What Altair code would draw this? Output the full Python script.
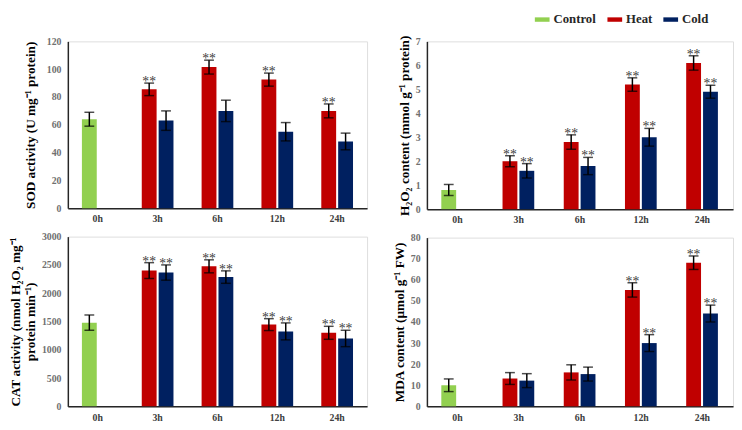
import altair as alt
import pandas as pd

times = ["0h", "3h", "6h", "12h", "24h"]
stress_times = ["3h", "6h", "12h", "24h"]
treatments = ["Control", "Heat", "Cold"]
colors = ["#92D050", "#C00000", "#002060"]

# SOD activity
sod_control = 64.0
sod_control_err = 5.0
sod_heat = [85.5, 101.5, 92.5, 70.0]
sod_heat_err = [4.5, 5.0, 4.7, 5.0]
sod_cold = [63.0, 70.0, 55.0, 48.0]
sod_cold_err = [7.0, 7.7, 6.6, 6.0]
sod_heat_sig = [True, True, True, True]
sod_cold_sig = [False, False, False, False]

# H2O2 content
h2o2_control = 0.8
h2o2_control_err = 0.23
h2o2_heat = [2.0, 2.8, 5.2, 6.1]
h2o2_heat_err = [0.23, 0.3, 0.28, 0.3]
h2o2_cold = [1.6, 1.8, 3.0, 4.9]
h2o2_cold_err = [0.3, 0.36, 0.37, 0.27]
h2o2_heat_sig = [True, True, True, True]
h2o2_cold_sig = [True, True, True, True]

# CAT activity
cat_control = 1480.0
cat_control_err = 135.0
cat_heat = [2400.0, 2475.0, 1445.0, 1300.0]
cat_heat_err = [140.0, 115.0, 105.0, 115.0]
cat_cold = [2365.0, 2285.0, 1325.0, 1200.0]
cat_cold_err = [135.0, 110.0, 150.0, 145.0]
cat_heat_sig = [True, True, True, True]
cat_cold_sig = [True, True, True, True]

# MDA content
mda_control = 10.0
mda_control_err = 3.0
mda_heat = [13.2, 16.1, 55.2, 68.1]
mda_heat_err = [2.8, 3.6, 3.4, 3.2]
mda_cold = [12.2, 15.3, 30.0, 44.0]
mda_cold_err = [3.3, 3.3, 4.0, 4.0]
mda_heat_sig = [False, False, True, True]
mda_cold_sig = [False, False, True, True]


def make_df(control, control_err, heat, heat_err, cold, cold_err, heat_sig, cold_sig):
    rows = [dict(time="0h", treatment="Control", slot="a", value=control,
                 err=control_err, sig=False)]
    for t, v, e, s in zip(stress_times, heat, heat_err, heat_sig):
        rows.append(dict(time=t, treatment="Heat", slot="a", value=v, err=e, sig=s))
    for t, v, e, s in zip(stress_times, cold, cold_err, cold_sig):
        rows.append(dict(time=t, treatment="Cold", slot="b", value=v, err=e, sig=s))
    df = pd.DataFrame(rows)
    df["lo"] = df["value"] - df["err"]
    df["hi"] = df["value"] + df["err"]
    return df


SERIF = "Liberation Serif"

legend_def = alt.Legend(
    title=None, orient="none", direction="horizontal", legendX=476, legendY=-30,
    padding=0, symbolType="M-1,-0.3H1V0.3H-1Z", symbolSize=225, symbolStrokeWidth=0,
    labelFont=SERIF, labelFontSize=13, labelFontWeight="bold", labelColor="#262626",
    columnPadding=11, labelOffset=4,
)


def panel(df, title, domain, step, width, height, title_padding, xlabel_pad):
    base = alt.Chart(df).encode(
        x=alt.X("time:N", sort=times,
                scale=alt.Scale(domain=times, paddingInner=0.47, paddingOuter=0.235),
                axis=alt.Axis(title=None, labelAngle=0, ticks=False, domainColor="#262626",
                              domainWidth=1.5, labelFont=SERIF, labelFontSize=10,
                              labelFontWeight="bold", labelColor="#404040",
                              labelPadding=xlabel_pad)),
        xOffset=alt.XOffset("slot:N", scale=alt.Scale(domain=["a", "b"], paddingInner=0.12)),
    )
    yax = alt.Axis(title=title, values=list(range(domain[0], domain[1] + 1, step)),
                   format="d", labelOverlap=False,
                   ticks=False, grid=False, domainColor="#262626", domainWidth=1.5,
                   labelFont=SERIF, labelFontSize=10, labelFontWeight="bold",
                   labelColor="#707070", labelPadding=7,
                   titleFont=SERIF, titleFontSize=13.5, titleFontWeight="bold",
                   titleColor="black", titlePadding=title_padding)
    yscale = alt.Scale(domain=domain, nice=False)
    bars = base.mark_bar().encode(
        y=alt.Y("value:Q", scale=yscale, axis=yax),
        color=alt.Color("treatment:N", scale=alt.Scale(domain=treatments, range=colors),
                        legend=legend_def),
    )
    rules = base.mark_rule(color="black", strokeWidth=1.5).encode(
        y=alt.Y("lo:Q", scale=yscale, axis=yax), y2="hi:Q")
    cap_hi = base.mark_tick(color="black", thickness=1.5, size=10).encode(
        y=alt.Y("hi:Q", scale=yscale, axis=yax))
    cap_lo = base.mark_tick(color="black", thickness=1.5, size=10).encode(
        y=alt.Y("lo:Q", scale=yscale, axis=yax))
    stars = base.transform_filter("datum.sig").mark_text(
        text="**", font=SERIF, fontSize=14, color="#404040", baseline="alphabetic", dy=3
    ).encode(y=alt.Y("hi:Q", scale=yscale, axis=yax))
    return alt.layer(bars, rules, cap_hi, cap_lo, stars).properties(width=width, height=height)


sod = panel(make_df(sod_control, sod_control_err, sod_heat, sod_heat_err, sod_cold,
                    sod_cold_err, sod_heat_sig, sod_cold_sig),
            "SOD activity (U mg⁻¹ protein)", [0, 120], 20, 305, 170, 9, 6)
h2o2 = panel(make_df(h2o2_control, h2o2_control_err, h2o2_heat, h2o2_heat_err, h2o2_cold,
                     h2o2_cold_err, h2o2_heat_sig, h2o2_cold_sig),
             "H₂O₂ content (mmol g⁻¹ protein)", [0, 7], 1, 312, 171, 4, 6)
cat = panel(make_df(cat_control, cat_control_err, cat_heat, cat_heat_err, cat_cold,
                    cat_cold_err, cat_heat_sig, cat_cold_sig),
            ["CAT activity (nmol H₂O₂ mg⁻¹", "protein min⁻¹)"], [0, 3000], 500, 305, 173, 4, 6)
mda = panel(make_df(mda_control, mda_control_err, mda_heat, mda_heat_err, mda_cold,
                    mda_cold_err, mda_heat_sig, mda_cold_sig),
            "MDA content (µmol g⁻¹ FW)", [0, 80], 10, 312, 172, 4, 6)

chart = alt.hconcat(
    alt.vconcat(sod, cat, spacing=6),
    alt.vconcat(h2o2, mda, spacing=6),
    spacing=24,
).properties(
    padding={"left": 0, "top": 0, "right": 0, "bottom": 0}
).configure_view(stroke="transparent").configure(background="white")

chart.save("out.html", embed_options={"renderer": "svg", "actions": False})
